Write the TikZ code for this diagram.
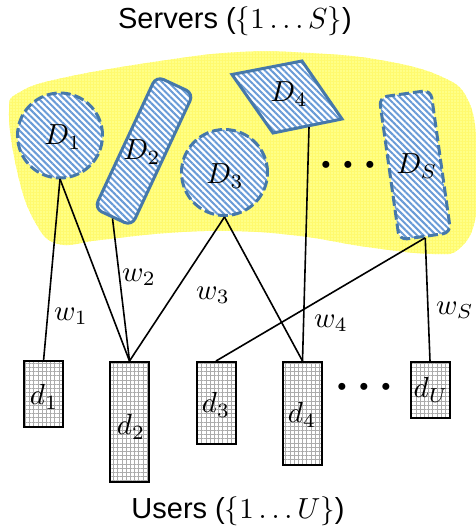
\documentclass[tikz,border=0pt]{standalone}
\usepackage{fontspec}
\setsansfont{Liberation Sans}
\usetikzlibrary{patterns.meta}
\definecolor{blobyellow}{RGB}{255,255,135}
\definecolor{blobgrid}{RGB}{255,250,110}
\definecolor{dborder}{RGB}{70,120,170}
\definecolor{dstripe}{RGB}{105,155,215}
\newcommand{\bigdots}{\makebox[7.6pt]{$\scriptscriptstyle\bullet$}\makebox[7.6pt]{$\scriptscriptstyle\bullet$}\makebox[7.6pt]{$\scriptscriptstyle\bullet$}}
\begin{document}
\begin{tikzpicture}[x=1pt,y=-1pt,
  lbl/.style={font=\fontsize{10}{12}\selectfont, inner sep=0pt, scale=2.9},
  server/.style={draw=dborder, line width=3pt, preaction={fill=white},
    pattern={Lines[angle=-45,distance=4.5pt,line width=2pt]}, pattern color=dstripe},
  dashb/.style={dash pattern=on 10pt off 4pt},
  user/.style={draw=black, line width=2pt, preaction={fill=white},
    pattern={Hatch[angle=0,distance=4.2pt,line width=0.5pt]}, pattern color=gray!65,
    minimum width=39pt, anchor=north},
  link/.style={line width=1.6pt, draw=black}]
\useasboundingbox (0,0) rectangle (476,531);

% yellow region
\fill[blobyellow] plot[smooth cycle, tension=0.7] coordinates {
  (9,112) (20,92) (67,77) (167,60) (240,52) (310,53) (380,60) (440,76)
  (468,100) (477,150) (476,215) (460,248) (433,254) (367,247) (300,236)
  (233,231) (167,233) (100,240) (58,244) (35,222) (18,175)};
\fill[pattern={Hatch[angle=0,distance=3pt,line width=0.25pt]}, pattern color=blobgrid]
  plot[smooth cycle, tension=0.7] coordinates {
  (9,112) (20,92) (67,77) (167,60) (240,52) (310,53) (380,60) (440,76)
  (468,100) (477,150) (476,215) (460,248) (433,254) (367,247) (300,236)
  (233,231) (167,233) (100,240) (58,244) (35,222) (18,175)};

% servers
\node[server, dashb, circle, minimum size=85pt] (D1) at (60,135.5) {};
\node[server, rounded corners=8pt, minimum width=41pt, minimum height=146pt, rotate=-25] (D2) at (144,151) {};
\node[server, dashb, circle, minimum size=86pt] (D3) at (224.5,172.5) {};
\draw[server, line join=miter] (232,74.5) -- (302,61) -- (342,119) -- (273,133) -- cycle;
\coordinate (D4s) at (309,127);
\node[server, dashb, rounded corners=8pt, minimum width=52pt, minimum height=144pt, rotate=8] (DS) at (415,165) {};

\node[lbl] (D1l) at (63,137) {$D_1$};
\node[lbl] (D2l) at (142,152) {$D_2$};
\node[lbl] (D3l) at (225,176) {$D_3$};
\node[lbl] (D4l) at (289,94) {$D_4$};
\node[lbl] (DSl) at (417,166) {$D_S$};
\node[lbl] (sdots) at (348,165) {\bigdots};

% users
\node[user, minimum height=66pt] (d1) at (43.5,361) {};
\node[user, minimum height=120pt] (d2) at (129.5,361) {};
\node[user, minimum height=82pt] (d3) at (216,361) {};
\node[user, minimum height=103pt] (d4) at (302.5,361) {};
\node[user, minimum height=56pt] (dU) at (430,361) {};

\node[lbl] (d1l) at (44,397) {$d_1$};
\node[lbl] (d2l) at (131,427) {$d_2$};
\node[lbl] (d3l) at (216,405) {$d_3$};
\node[lbl] (d4l) at (302,415) {$d_4$};
\node[lbl] (dUl) at (431,390) {$d_U$};
\node[lbl] (udots) at (364,387) {\bigdots};

% links
\draw[link] (D1.south) -- (d1.north);
\draw[link] (D1.south) -- (d2.north);
\draw[link] (D2.south) -- (d2.north);
\draw[link] (D3.south) -- (d2.north);
\draw[link] (D3.south) -- (d4.north);
\draw[link] (D4s) -- (d4.north);
\draw[link] (DS.south) -- (d3.north);
\draw[link] (DS.south) -- (dU.north);

\node[lbl] (w1) at (71,316) {$w_1$};
\node[lbl] (w2) at (139,277) {$w_2$};
\node[lbl] (w3) at (213,295) {$w_3$};
\node[lbl] (w4) at (331,323) {$w_4$};
\node[lbl] (wS) at (455,310) {$w_S$};

\node[lbl] (servers) at (235,21) {\sffamily Servers ($\{1\ldots S\}$)};
\node[lbl] (users) at (238,511) {\sffamily Users ($\{1\ldots U\}$)};
\end{tikzpicture}
\end{document}
